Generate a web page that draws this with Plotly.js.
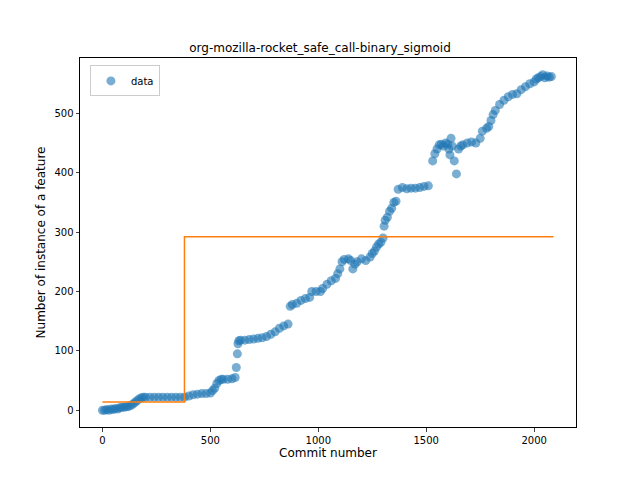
<!DOCTYPE html>
<html><head><script src="https://cdn.plot.ly/plotly-3.0.1.min.js"></script></head>
<body style="margin:0"><div id="g" style="width:640px;height:480px"></div>
<script>
const commits = [0,10,20,30,40,50,60,70,80,90,100,110,120,130,140,150,160,170,180,190,200,220,240,260,280,300,320,340,360,380,400,420,440,460,480,500,510,520,530,540,550,560,580,600,615,620,625,628,632,640,660,680,700,720,740,760,780,800,820,840,860,870,880,900,920,940,960,970,990,1010,1020,1040,1060,1080,1090,1100,1110,1120,1140,1150,1160,1170,1180,1200,1220,1240,1250,1260,1270,1280,1290,1300,1305,1310,1320,1330,1340,1350,1360,1370,1390,1410,1430,1450,1470,1490,1510,1530,1540,1550,1560,1570,1580,1590,1600,1605,1610,1615,1620,1630,1640,1650,1660,1670,1690,1710,1730,1750,1760,1780,1790,1800,1810,1820,1840,1860,1880,1900,1920,1940,1960,1980,2000,2010,2020,2030,2040,2050,2060,2070,2080];
const counts  = [0,0,1,0,2,1,3,2,4,5,5,6,6,8,10,13,16,19,21,22,22,22,22,22,22,22,22,22,22,22,24,26,27,28,28,29,33,37,45,50,52,52,52,53,55,72,95,112,117,118,118,119,120,121,122,124,128,132,138,142,145,175,178,180,185,188,190,200,200,200,205,212,218,222,230,238,250,254,255,252,238,246,250,255,252,258,264,268,275,280,283,290,310,320,325,335,340,350,352,372,375,373,374,374,375,377,378,420,432,440,447,448,445,450,448,440,430,458,445,420,398,440,445,447,450,452,450,458,470,475,478,488,498,505,515,522,528,532,533,540,545,550,553,558,560,562,565,560,563,561,562,560,560];
const stepX = [0,380,380,2090];
const stepY = [14,14,292,292];

Plotly.newPlot('g', [
  {x: commits, y: counts, mode: 'markers', name: 'data',
   marker: {color: '#1f77b4', size: 9, opacity: 0.6}},
  {x: stepX, y: stepY, mode: 'lines', showlegend: false,
   line: {color: '#ff7f0e', width: 1.5}}
], {
  width: 640, height: 480,
  margin: {l: 80, r: 64, t: 58, b: 53},
  paper_bgcolor: 'white', plot_bgcolor: 'white',
  font: {family: 'DejaVu Sans', size: 10, color: 'black'},
  title: {text: 'org-mozilla-rocket_safe_call-binary_sigmoid', font: {size: 12}, x: 0.5, y: 0.91},
  xaxis: {range: [-104, 2194], tickvals: [0,500,1000,1500,2000], ticks: 'outside', ticklen: 3.5,
    showgrid: false, zeroline: false, showline: true, mirror: true, linecolor: 'black',
    title: {text: 'Commit number', font: {size: 12}, standoff: 4}},
  yaxis: {range: [-28.3, 593.3], tickvals: [0,100,200,300,400,500], ticks: 'outside', ticklen: 3.5,
    showgrid: false, zeroline: false, showline: true, mirror: true, linecolor: 'black',
    title: {text: 'Number of instance of a feature', font: {size: 12}, standoff: 6}},
  legend: {x: 0.02, y: 0.98, bordercolor: '#ccc', borderwidth: 1, font: {size: 10}, tracegroupgap: 0},
  showlegend: true
}, {staticPlot: true});
</script></body></html>
